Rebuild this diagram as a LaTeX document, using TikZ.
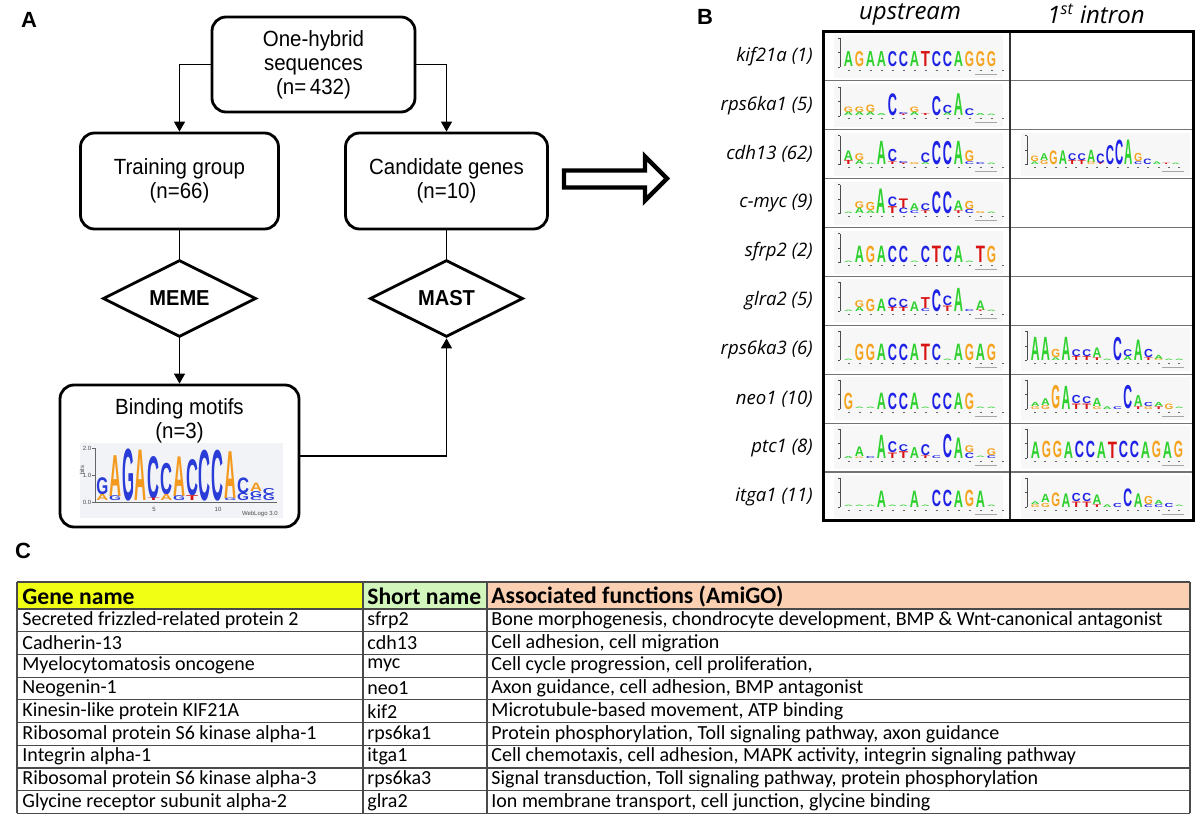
\documentclass[tikz,border=0pt]{standalone}
\usepackage{fontspec}
\usepackage{graphicx}
\usetikzlibrary{arrows.meta,shapes.geometric}
\setmainfont{Liberation Sans}
\newfontfamily\nfont[FakeStretch=0.93]{Liberation Sans}
\newfontfamily\itfont{Open Sans}
\newfontfamily\tfont{Carlito}
\newfontfamily\logofont{Liberation Sans}
\definecolor{lA}{HTML}{2ED12E}
\definecolor{lC}{HTML}{1E22E6}
\definecolor{lG}{HTML}{F5A31E}
\definecolor{lT}{HTML}{D91414}
\definecolor{wOr}{HTML}{F39A1E}
\definecolor{wBl}{HTML}{2A3CD8}
\definecolor{logobg}{HTML}{F6F7F6}
\definecolor{wlogobg}{HTML}{F2F3F6}
\definecolor{yhdr}{HTML}{F0FF14}
\definecolor{ghdr}{HTML}{D2F5BC}
\definecolor{shdr}{HTML}{FBCFB2}
\definecolor{tline}{HTML}{4A4A4A}
\newlength\lw
\newlength\pxu
\setlength\pxu{0.5pt}
\newcommand\LTR[3]{\hbox{\resizebox{\lw}{#3\pxu}{\textcolor{#1}{\logofont\bfseries #2}}}}
\newcommand\sA[1]{\LTR{lA}{A}{#1}}
\newcommand\sC[1]{\LTR{lC}{C}{#1}}
\newcommand\sG[1]{\LTR{lG}{G}{#1}}
\newcommand\sT[1]{\LTR{lT}{T}{#1}}
\newcommand\wA[1]{\LTR{wOr}{A}{#1}}
\newcommand\wC[1]{\LTR{wBl}{C}{#1}}
\newcommand\wG[1]{\LTR{wBl}{G}{#1}}
\newcommand\wT[1]{\LTR{lT}{T}{#1}}
% #1 x0, #2 baseline, #3 step, #4 list of stacks
\newcommand\drawlogo[4]{%
  \foreach \stk [count=\i] in {#4} {
    \node[anchor=south, inner sep=0pt, outer sep=0pt] at ({#1+(\i-0.5)*#3}, #2) {\vbox{\offinterlineskip\stk}};
  }}
% small logo frame: #1 cell left, #2 row top (plain number), #3 number of positions, #4 step
\newcommand\logoframe[4]{%
  \fill[logobg] ({#1+11},{#2+3}) rectangle ({#1+180},{#2+46});
  \draw[line width=0.3pt, black!70] ({#1+17},{#2+6}) -- ({#1+17},{#2+35});
  \foreach \t in {6,20.5,35} {\draw[line width=0.3pt, black!70] ({#1+15},{#2+\t}) -- ({#1+17},{#2+\t});}
  \foreach \j in {1,...,#3} {\draw[line width=0.4pt, black!60] ({#1+20+(\j-0.5)*#4-1},{#2+38}) -- ({#1+20+(\j-0.5)*#4+1},{#2+38});}
  \draw[line width=0.4pt, black!35] ({#1+152},{#2+42}) -- ({#1+174},{#2+42});
}
\begin{document}
\begin{tikzpicture}[x=0.5pt,y=-0.5pt,
  panlab/.style={font=\bfseries\fontsize{11}{13}\selectfont, inner sep=0pt},
  fbox/.style={draw, line width=1.4pt, rounded corners=7pt, align=center, inner sep=0pt,
    font=\nfont\fontsize{11}{12}\selectfont},
  ftext/.style={align=center, inner sep=0pt, font=\nfont\fontsize{11}{12}\selectfont},
  dia/.style={diamond, draw, line width=1.4pt, aspect=2, inner sep=0pt,
    minimum width=76.5pt, minimum height=38.5pt, font=\nfont\bfseries\fontsize{10.8}{12}\selectfont},
  conn/.style={line width=0.6pt},
  arr/.style={line width=0.6pt, -{Triangle[width=5.5pt,length=5pt]}},
  colhdr/.style={font=\itfont\itshape\fontsize{12}{14}\selectfont, inner sep=0pt},
  rowlab/.style={font=\itfont\itshape\fontsize{9.3}{11}\selectfont, inner sep=0pt, anchor=east},
  thead/.style={font=\tfont\bfseries\fontsize{11.8}{14}\selectfont, inner sep=0pt, anchor=west},
  tcell/.style={font=\tfont\fontsize{10}{12}\selectfont, inner sep=0pt, anchor=west},
  tiny/.style={font=\fontsize{3}{3.5}\selectfont, inner sep=0pt, text=black!70}
]
\useasboundingbox[fill=white] (0,0) rectangle (1200,828);

% ---------------- Panel labels
\node[panlab] (labA) at (29,20) {A};
\node[panlab] (labB) at (705,17) {B};
\node[panlab] (labC) at (23,551) {C};

% ---------------- Panel A
\node[fbox, minimum width=101.5pt, minimum height=47.5pt] (src) at (313.5,64.5) {One-hybrid\\sequences\\(n=\,432)};
\node[fbox, minimum width=99pt, minimum height=48pt] (train) at (179.5,181) {Training group\\(n=66)};
\node[fbox, minimum width=101pt, minimum height=48pt] (cand) at (446.5,181) {Candidate genes\\(n=10)};
\node[dia] (meme) at (179.5,298.5) {MEME};
\node[dia] (mast) at (446.5,298.5) {MAST};
\node[fbox, minimum width=119.5pt, minimum height=71pt] (bind) at (179.5,456) {};
\node[ftext] (bindtxt) at (179.5,421) {Binding motifs\\(n=3)};

\draw[arr] (src.west) -| (train.north);
\draw[arr] (src.east) -| (cand.north);
\draw[conn] (train.south) -- (meme.north);
\draw[conn] (cand.south) -- (mast.north);
\draw[arr] (meme.south) -- (bind.north);
\draw[arr] (bind.east) -| (mast.south);

% big hollow arrow
\draw[line width=2.2pt, line join=miter] (564,170.5) -- (645,170.5) -- (645,156.5) -- (667,178.5) -- (645,200.5) -- (645,187.5) -- (564,187.5) -- cycle;

% motif logo in panel A
\fill[wlogobg] (80,443) rectangle (283,518);
\draw[line width=0.3pt, black!60] (95,448) -- (95,502);
\foreach \t/\v in {448/2.0,475/1.0,502/0.0} {
  \draw[line width=0.3pt, black!60] (92,\t) -- (95,\t);
  \node[tiny, anchor=east] at (91.5,\t) {\v};
}
\node[tiny, rotate=90] at (82,470) {bits};
\draw[line width=0.3pt, black!60] (95,502) -- (277,502);
\node[tiny] at (154,509) {5};
\node[tiny] at (218,509) {10};
\node[tiny, anchor=east] at (278,514) {WebLogo 3.0};
\setlength\lw{6pt}
\setlength\pxu{0.6pt}
\drawlogo{96}{501}{12.8}{{\wG{14}\wA{5}},{\wA{34}\wG{4}},{\wG{43}},{\wA{42}},{\wC{35}\wT{2}},{\wC{26}\wA{5}},{\wA{33}\wG{4}},{\wC{30}\wT{4}},{\wC{42}},{\wC{42}},{\wA{39}\wG{2}},{\wC{13}\wG{6}},{\wA{7}\wG{5}\wC{3}},{\wC{5}\wG{5}}}

% ---------------- Panel B
\node[colhdr] (hup) at (910,14) {upstream};
\node[colhdr] (hin) at (1096,14) {1\textsuperscript{st} intron};

% logo frames
\foreach \k in {1,...,10} {\pgfmathsetmacro\rt{32+48.9*(\k-1)}\logoframe{823}{\rt}{15}{11}}
\foreach \k in {3,7,8,9,10} {\pgfmathsetmacro\rt{32+48.9*(\k-1)}\logoframe{1010}{\rt}{15}{10.3}}

% grid
\foreach \k in {1,...,9} {\draw[line width=0.6pt, black!55] (823,{32+48.9*\k}) -- (1193,{32+48.9*\k});}
\draw[line width=0.8pt, black!80] (1010,32) -- (1010,521);
\draw[line width=1.5pt] (823,32) rectangle (1193,521);

\foreach \lbl [count=\k] in {{kif21a (1)},{rps6ka1 (5)},{cdh13 (62)},{c-myc (9)},{sfrp2 (2)},{glra2 (5)},{rps6ka3 (6)},{neo1 (10)},{ptc1 (8)},{itga1 (11)}}
  {\node[rowlab] (rl\k) at (813,{32+48.9*(\k-0.5)}) {\lbl};}

% upstream logos: x0 = 843, step 11, baseline = top+35
\setlength\pxu{0.68pt}
\setlength\lw{4.6pt}
\drawlogo{843}{67}{11}{{\sA{11}},{\sG{11}},{\sA{11}},{\sA{11}},{\sC{11}},{\sC{11}},{\sA{11}},{\sT{11}},{\sC{11}},{\sC{11}},{\sA{11}},{\sG{11}},{\sG{11}},{\sG{11}}}
\drawlogo{843}{115.9}{11}{{\sG{4}\sA{2.5}},{\sG{4}\sA{2.5}},{\sG{5.5}\sA{2.5}},{\sA{1.5}},{\sC{16}},{\sC{1.5}\sT{1}},{\sG{4}\sA{2.5}},{\sT{1.5}},{\sC{14}},{\sC{6}\sA{2}},{\sA{16}},{\sC{5}},{\sA{1.5}},{\sA{1}}}
\drawlogo{843}{164.8}{11}{{\sA{7}\sT{3}},{\sG{5}\sA{3}},{\sA{1}},{\sA{17}},{\sC{9}\sT{2}},{\sC{1.5}\sT{1}},{\sG{1.5}},{\sC{7}\sA{1.5}},{\sC{17}},{\sC{17}},{\sA{17}},{\sG{8}\sC{2}},{\sC{1.5}},{\sA{1}}}
\drawlogo{843}{213.7}{11}{{\sA{1}},{\sG{5}\sA{4}},{\sG{6}\sA{2}},{\sA{18}},{\sC{7}\sT{5}},{\sT{7}\sC{4}},{\sA{5}\sC{2}},{\sC{5}\sT{2}},{\sC{16}},{\sC{16}},{\sA{7}\sT{2}},{\sG{6}\sC{3}},{\sG{1.5}},{\sA{1}}}
\drawlogo{843}{262.6}{11}{{\sA{1}},{\sA{12}},{\sG{12}},{\sA{12}},{\sC{12}},{\sC{12}},{\sA{1}},{\sC{12}},{\sT{12}},{\sC{12}},{\sA{12}},{\sA{1}},{\sT{12}},{\sG{12}}}
\drawlogo{843}{311.5}{11}{{\sA{1}},{\sG{5}\sA{3}},{\sG{9}},{\sA{9}},{\sC{7}\sT{3}},{\sC{6}\sT{3}},{\sA{7}},{\sT{8}\sC{2}},{\sC{16}},{\sC{7}\sT{4}},{\sA{17}},{\sC{1.5}},{\sA{7}\sT{1}},{\sA{1}}}
\drawlogo{843}{360.4}{11}{{\sA{1}},{\sG{12}},{\sG{12}},{\sA{12}},{\sC{12}},{\sC{12}},{\sA{12}},{\sT{12}},{\sC{12}},{\sA{1}},{\sA{12}},{\sG{12}},{\sA{12}},{\sG{12}}}
\drawlogo{843}{409.3}{11}{{\sG{12}},{\sA{1}},{\sA{1}},{\sA{12}},{\sC{12}},{\sC{12}},{\sA{12}},{\sA{1}},{\sC{12}},{\sC{12}},{\sA{12}},{\sG{12}},{\sA{1}},{\sA{1}}}
\drawlogo{843}{458.2}{11}{{\sA{1.5}},{\sA{7}\sG{1}},{\sC{1.5}},{\sA{17}},{\sC{8}\sT{4}},{\sC{5}\sT{5}},{\sA{8}},{\sC{8}\sT{2}},{\sC{2}},{\sC{17}},{\sA{15}},{\sG{5}\sC{4}},{\sA{1}},{\sG{5}\sC{2}}}
\drawlogo{843}{507.1}{11}{{\sA{1}},{\sA{1}},{\sA{1}},{\sA{12}},{\sA{1}},{\sA{1}},{\sA{12}},{\sA{1}},{\sC{12}},{\sC{12}},{\sA{12}},{\sG{12}},{\sA{12}},{\sA{1}}}

% intron logos
\setlength\lw{4.1pt}
\drawlogo{1030}{164.8}{9.4}{{\sG{4}\sA{2}},{\sA{5}\sG{3}},{\sG{10}},{\sA{10}},{\sC{5}\sT{3}},{\sC{5}\sT{3}},{\sA{9}\sG{2}},{\sC{7}\sT{1}},{\sC{14}},{\sC{18}},{\sA{18}},{\sG{6}\sC{2}},{\sC{4}},{\sA{2}},{\sT{1}},{\sA{1}}}
\setlength\lw{4.4pt}
\drawlogo{1030}{360.4}{10.3}{{\sA{17}},{\sA{17}},{\sG{6}\sA{2}},{\sA{17}},{\sC{5}\sT{3}},{\sC{5}\sT{3}},{\sA{7}\sT{2}},{\sA{1}},{\sC{17}},{\sC{5}\sA{3}},{\sA{15}},{\sC{6}\sT{2}},{\sA{3}\sG{1}},{\sA{1}},{\sA{1}}}
\drawlogo{1030}{409.3}{10.3}{{\sA{3}\sG{2}},{\sA{5}\sG{3}},{\sG{17}},{\sA{17}},{\sC{6}\sT{4}},{\sC{5}\sT{4}},{\sA{6}\sG{2}},{\sA{2}},{\sC{2}},{\sC{17}},{\sA{8}\sT{2}},{\sC{3}\sG{2}},{\sA{3}\sT{2}},{\sG{4}},{\sA{1}}}
\setlength\lw{4.6pt}
\drawlogo{1030}{458.2}{11}{{\sA{12}},{\sG{12}},{\sG{12}},{\sA{12}},{\sC{12}},{\sC{12}},{\sA{12}},{\sT{12}},{\sC{12}},{\sC{12}},{\sA{12}},{\sG{12}},{\sA{12}},{\sG{12}}}
\setlength\lw{4.4pt}
\drawlogo{1030}{507.1}{10.3}{{\sA{2}\sG{2}},{\sA{6}\sG{3}},{\sG{10}},{\sA{10}},{\sC{6}\sT{4}},{\sC{6}\sT{4}},{\sA{7}\sT{2}},{\sA{2}},{\sC{3}},{\sC{13}},{\sA{10}},{\sG{6}\sC{2}},{\sA{3}\sC{2}},{\sC{3}},{\sA{1}}}

% ---------------- Panel C table
\fill[yhdr] (17,582) rectangle (363,609);
\fill[ghdr] (363,582) rectangle (487,609);
\fill[shdr] (487,582) rectangle (1190,609);
\foreach \k in {0,...,9} {\draw[line width=0.6pt, tline] (17,{609+22.7*\k}) -- (1190,{609+22.7*\k});}
\draw[line width=0.6pt, tline] (17,582) -- (1190,582);
\foreach \xx in {17,363,487,1190} {\draw[line width=0.6pt, tline] (\xx,582) -- (\xx,813.3);}

\node[thead] (hg) at (22,596.5) {Gene name};
\node[thead] (hs) at (367,596.5) {Short name};
\node[thead] (hf) at (491,596.5) {Associated functions (AmiGO)};

\foreach \g/\s/\f [count=\k] in {
 {Secreted frizzled-related protein 2}/{sfrp2}/{Bone morphogenesis, chondrocyte development, BMP \& Wnt-canonical antagonist},
 {Cadherin-13}/{cdh13}/{Cell adhesion, cell migration},
 {Myelocytomatosis oncogene}/{myc}/{Cell cycle progression, cell proliferation,},
 {Neogenin-1}/{neo1}/{Axon guidance, cell adhesion, BMP antagonist},
 {Kinesin-like protein KIF21A}/{kif2}/{Microtubule-based movement, ATP binding},
 {Ribosomal protein S6 kinase alpha-1}/{rps6ka1}/{Protein phosphorylation, Toll signaling pathway, axon guidance},
 {Integrin alpha-1}/{itga1}/{Cell chemotaxis, cell adhesion, MAPK activity, integrin signaling pathway},
 {Ribosomal protein S6 kinase alpha-3}/{rps6ka3}/{Signal transduction, Toll signaling pathway, protein phosphorylation},
 {Glycine receptor subunit alpha-2}/{glra2}/{Ion membrane transport, cell junction, glycine binding}}
{
 \node[tcell] (g\k) at (22,{609+22.7*(\k-0.5)}) {\g};
 \node[tcell] (s\k) at (367,{609+22.7*(\k-0.5)}) {\s};
 \node[tcell] (f\k) at (491,{609+22.7*(\k-0.5)}) {\f};
}
\end{tikzpicture}
\end{document}
